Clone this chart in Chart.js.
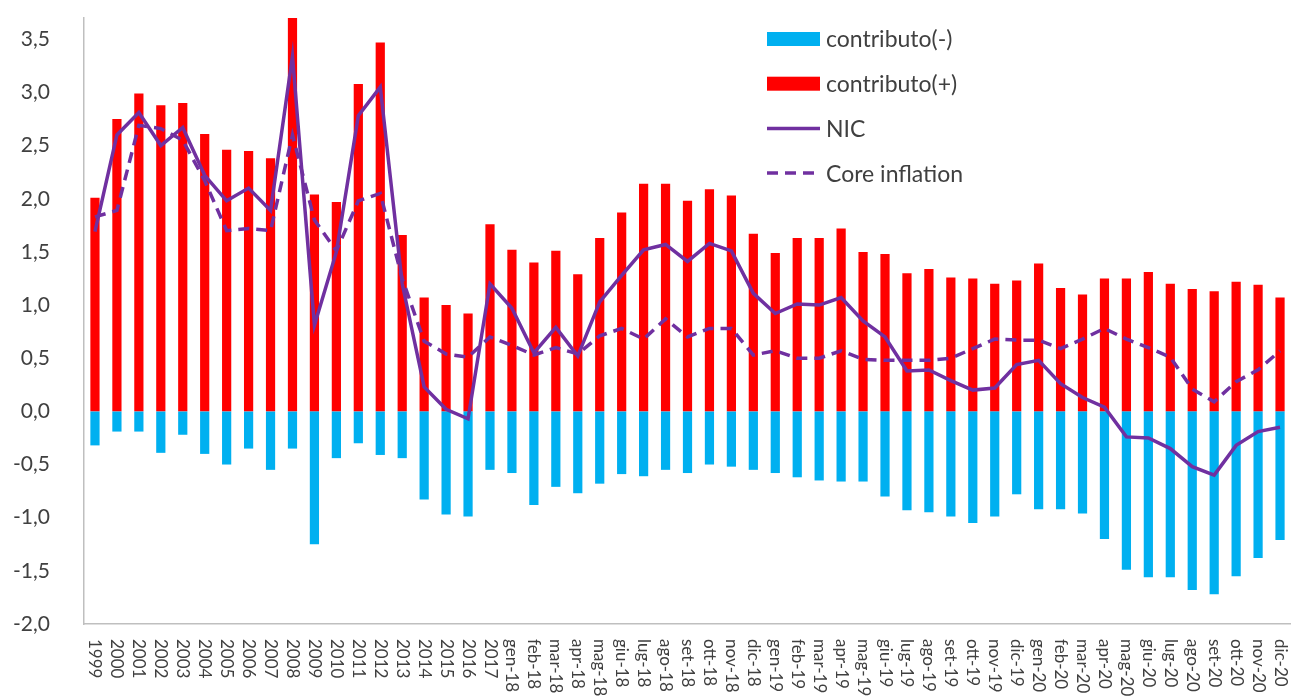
<!DOCTYPE html>
<html>
<head>
<meta charset="utf-8">
<script src="https://cdn.jsdelivr.net/npm/chart.js@4"></script>
<style>
  body { margin: 0; background: #fff; }
</style>
</head>
<body>
<canvas id="infl" width="1291" height="700"></canvas>
<script>
var labels = ["1999","2000","2001","2002","2003","2004","2005","2006","2007","2008","2009","2010","2011","2012","2013","2014","2015","2016","2017",
  "gen-18","feb-18","mar-18","apr-18","mag-18","giu-18","lug-18","ago-18","set-18","ott-18","nov-18","dic-18",
  "gen-19","feb-19","mar-19","apr-19","mag-19","giu-19","lug-19","ago-19","set-19","ott-19","nov-19","dic-19",
  "gen-20","feb-20","mar-20","apr-20","mag-20","giu-20","lug-20","ago-20","set-20","ott-20","nov-20","dic-20"];

var yTicks = [-2.0, -1.5, -1.0, -0.5, 0.0, 0.5, 1.0, 1.5, 2.0, 2.5, 3.0, 3.5];

var contribNeg = [-0.32,-0.19,-0.19,-0.39,-0.22,-0.40,-0.50,-0.35,-0.55,-0.35,-1.25,-0.44,-0.30,-0.41,-0.44,-0.83,-0.97,-0.99,-0.55,
  -0.58,-0.88,-0.71,-0.77,-0.68,-0.59,-0.61,-0.55,-0.58,-0.50,-0.52,-0.55,
  -0.58,-0.62,-0.65,-0.66,-0.66,-0.80,-0.93,-0.95,-0.99,-1.05,-0.99,-0.78,
  -0.92,-0.92,-0.96,-1.20,-1.49,-1.56,-1.56,-1.68,-1.72,-1.55,-1.38,-1.21];

var contribPos = [2.01,2.75,2.99,2.88,2.90,2.61,2.46,2.45,2.38,3.70,2.04,1.97,3.08,3.47,1.66,1.07,1.00,0.92,1.76,
  1.52,1.40,1.51,1.29,1.63,1.87,2.14,2.14,1.98,2.09,2.03,1.67,
  1.49,1.63,1.63,1.72,1.50,1.48,1.30,1.34,1.26,1.25,1.20,1.23,
  1.39,1.16,1.10,1.25,1.25,1.31,1.20,1.15,1.13,1.22,1.19,1.07];

var nic = [1.69,2.60,2.81,2.50,2.67,2.22,1.98,2.10,1.89,3.34,0.81,1.50,2.78,3.05,1.20,0.23,0.02,-0.07,1.20,
  0.97,0.55,0.79,0.52,1.03,1.28,1.52,1.57,1.41,1.58,1.51,1.11,
  0.92,1.01,1.00,1.07,0.85,0.70,0.38,0.39,0.29,0.20,0.22,0.44,
  0.48,0.26,0.13,0.04,-0.24,-0.25,-0.35,-0.52,-0.60,-0.32,-0.19,-0.15];

var core = [1.83,1.89,2.69,2.66,2.55,2.17,1.70,1.72,1.70,2.60,1.80,1.51,1.98,2.05,1.25,0.66,0.54,0.51,0.70,
  0.62,0.53,0.60,0.54,0.71,0.78,0.68,0.87,0.70,0.78,0.78,0.53,
  0.57,0.50,0.50,0.57,0.49,0.48,0.48,0.48,0.50,0.59,0.68,0.67,
  0.67,0.59,0.68,0.78,0.68,0.60,0.51,0.21,0.09,0.28,0.39,0.57];

var textColor = "#404040";
var fontFamily = "Lato, 'Open Sans', sans-serif";

// legend drawn inside the plot, top right, like the excel original
var boxLegend = {
  id: "boxLegend",
  afterDraw: function(chart) {
    var ctx = chart.ctx;
    ctx.save();
    ctx.font = "23px " + fontFamily;
    ctx.textBaseline = "middle";
    chart.data.datasets.forEach(function(ds, row) {
      var y = 39 + row * 44.7;
      if (ds.type === "line") {
        ctx.strokeStyle = ds.borderColor;
        ctx.lineWidth = 3.5;
        ctx.setLineDash(ds.borderDash || []);
        ctx.beginPath();
        ctx.moveTo(767, y);
        ctx.lineTo(820, y);
        ctx.stroke();
        ctx.setLineDash([]);
      } else {
        ctx.fillStyle = ds.backgroundColor;
        ctx.fillRect(767, y - 7, 53, 14);
      }
      ctx.fillStyle = textColor;
      ctx.fillText(ds.label, 826, y + 1);
    });
    ctx.restore();
  }
};

// x labels read top to bottom
var downLabels = {
  id: "downLabels",
  afterDraw: function(chart) {
    var ctx = chart.ctx;
    var xs = chart.scales.x;
    ctx.save();
    ctx.font = "17px " + fontFamily;
    ctx.fillStyle = textColor;
    ctx.textAlign = "left";
    ctx.textBaseline = "middle";
    labels.forEach(function(lab, i) {
      var x = xs.getPixelForValue(i);
      ctx.save();
      ctx.translate(x, 639);
      ctx.rotate(Math.PI / 2);
      ctx.fillText(lab, 0, 0);
      ctx.restore();
    });
    ctx.restore();
  }
};

new Chart("infl", {
  data: {
    labels: labels,
    datasets: [
      { type: "bar", label: "contributo(-)", data: contribNeg, backgroundColor: "#00B0F0", order: 3 },
      { type: "bar", label: "contributo(+)", data: contribPos, backgroundColor: "#FF0000", order: 2 },
      { type: "line", label: "NIC", data: nic, borderColor: "#7030A0", borderWidth: 3.5, pointRadius: 0, tension: 0, order: 1 },
      { type: "line", label: "Core inflation", data: core, borderColor: "#7030A0", borderWidth: 3.5, borderDash: [11, 7], pointRadius: 0, tension: 0, order: 0 }
    ]
  },
  options: {
    responsive: false,
    animation: false,
    layout: { padding: { top: 18, left: 0, right: 0, bottom: 0 } },
    datasets: { bar: { grouped: false, categoryPercentage: 1, barPercentage: 0.42 } },
    plugins: { legend: { display: false }, tooltip: { enabled: false } },
    scales: {
      x: {
        grid: { display: false },
        border: { display: true, color: "#BFBFBF", width: 1.5 },
        ticks: { display: false },
        afterFit: function(scale) { scale.height = 76; scale.paddingLeft = 0; scale.paddingRight = 0; }
      },
      y: {
        min: -2, max: 3.7,
        grid: { display: false },
        border: { display: true, color: "#BFBFBF", width: 1.5 },
        ticks: {
          padding: 26,
          color: textColor,
          font: { size: 21, family: fontFamily },
          callback: function(v) { return v.toFixed(1).replace(".", ","); }
        },
        afterBuildTicks: function(scale) {
          scale.ticks = yTicks.map(function(v) { return { value: v }; });
        },
        afterFit: function(scale) { scale.width = 84; scale.paddingTop = 0; scale.paddingBottom = 0; }
      }
    }
  },
  plugins: [boxLegend, downLabels]
});
</script>
</body>
</html>
